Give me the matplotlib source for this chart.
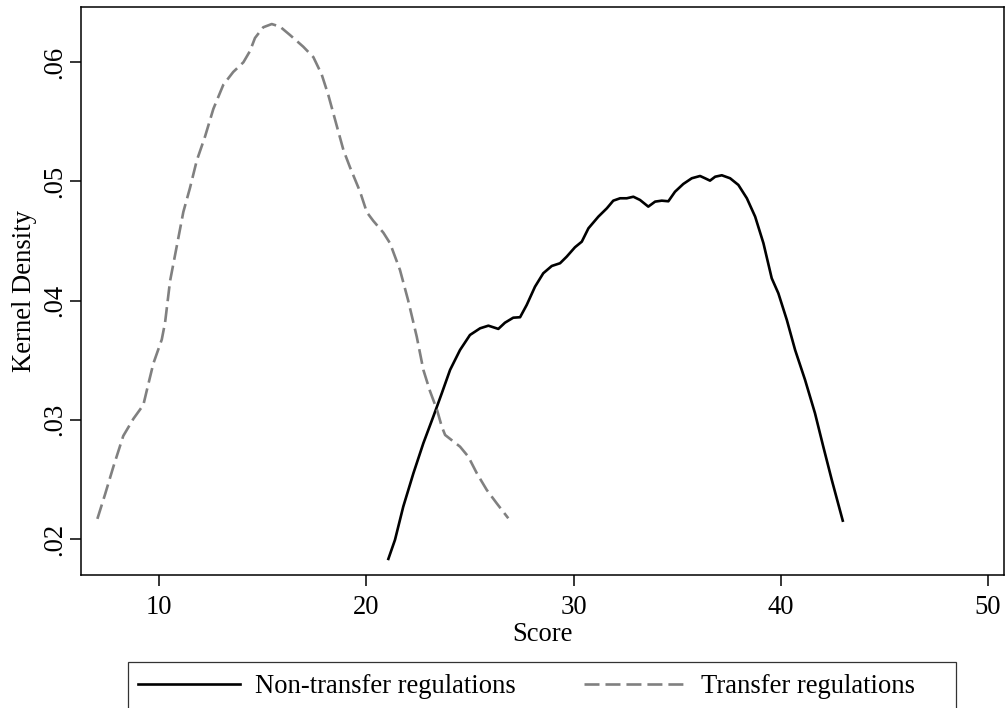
"""
Kernel density of scores: non-transfer vs transfer regulations (Stata-style).
"""
import matplotlib
matplotlib.use("Agg")
import matplotlib.pyplot as plt
from matplotlib.patches import Rectangle

plt.rcParams['font.family'] = ['Liberation Serif', 'DejaVu Serif']
plt.rcParams['lines.scale_dashes'] = False

# Non-transfer regulations (solid black)
nontransfer_x = [21.06, 21.38, 21.78, 22.27, 22.75, 23.23, 23.64, 24.04, 24.52, 25.00,
                 25.49, 25.89, 26.37, 26.69, 27.09, 27.42, 27.74, 28.14, 28.54, 28.95,
                 29.35, 29.67, 30.07, 30.40, 30.72, 31.20, 31.61, 31.92, 32.25, 32.57,
                 32.89, 33.21, 33.61, 33.94, 34.26, 34.58, 34.90, 35.30, 35.71, 36.11,
                 36.35, 36.59, 36.84, 37.16, 37.56, 37.96, 38.37, 38.77, 39.17, 39.57,
                 39.89, 40.30, 40.70, 41.18, 41.66, 42.06, 42.47, 43.00]
nontransfer_y = [.01833, .01993, .02272, .02552, .02804, .03027, .03223, .03419, .03586, .03712,
                 .03768, .03790, .03763, .03815, .03857, .03861, .03964, .04117, .04230, .04291,
                 .04314, .04369, .04448, .04495, .04607, .04705, .04775, .04839, .04859, .04859,
                 .04872, .04845, .04789, .04831, .04839, .04834, .04914, .04979, .05027, .05046,
                 .05027, .05007, .05040, .05052, .05027, .04971, .04859, .04705, .04482, .04188,
                 .04062, .03838, .03586, .03335, .03055, .02775, .02496, .02154]

# Transfer regulations (dashed gray)
transfer_x = [7.01, 7.38, 7.78, 8.26, 8.75, 9.23, 9.39, 9.71, 10.12, 10.28,
              10.52, 10.84, 11.16, 11.48, 11.81, 12.21, 12.61, 13.09, 13.57, 14.06,
              14.38, 14.62, 15.02, 15.43, 15.83, 16.31, 16.95, 17.44, 17.84, 18.16,
              18.57, 18.89, 19.21, 19.69, 20.02, 20.33, 20.82, 21.14, 21.62, 22.01,
              22.43, 22.75, 23.07, 23.41, 23.64, 23.80, 24.52, 24.92, 25.33, 25.81,
              26.29, 26.85]
transfer_y = [.02169, .02374, .02605, .02865, .03009, .03125, .03242, .03471, .03674, .03818,
              .04165, .04454, .04744, .04945, .05176, .05378, .05609, .05811, .05919, .06000,
              .06095, .06204, .06294, .06321, .06299, .06229, .06131, .06043, .05898, .05726,
              .05466, .05264, .05118, .04916, .04742, .04670, .04570, .04482, .04258, .04006,
              .03698, .03419, .03241, .03083, .02943, .02873, .02775, .02691, .02552, .02412,
              .02300, .02174]

x_ticks = [10, 20, 30, 40, 50]
y_ticks = [.02, .03, .04, .05, .06]
y_ticklabels = ['.02', '.03', '.04', '.05', '.06']

FS = 19.2

fig = plt.figure(figsize=(10.06, 7.08), dpi=100)
ax = fig.add_axes([80.7 / 1006, 1 - 575 / 708, (1004.3 - 80.7) / 1006, (575 - 7) / 708])

ax.plot(nontransfer_x, nontransfer_y, color='black', linewidth=1.9,
        solid_joinstyle='round', label='Non-transfer regulations')
ax.plot(transfer_x, transfer_y, color='#808080', linewidth=1.9,
        dashes=(10.8, 4.3), label='Transfer regulations')

ax.set_xlim(6.205, 50.80)
ax.set_ylim(0.01698, 0.06464)
ax.set_xticks(x_ticks)
ax.set_yticks(y_ticks)
ax.set_yticklabels(y_ticklabels, rotation=90, va='center')

for s in ax.spines.values():
    s.set_linewidth(1.1)
ax.tick_params(axis='both', direction='out', length=7.9, width=1.1, labelsize=FS)
ax.tick_params(axis='x', pad=6.5)
ax.tick_params(axis='y', pad=2)

ax.set_xlabel('Score', fontsize=FS)
ax.set_ylabel('Kernel Density', fontsize=FS)
ax.xaxis.set_label_coords(0.5, -0.082)
ax.yaxis.set_label_coords(-0.0473, 0.5)

# legend frame (runs past bottom edge like the original)
fig.patches.append(Rectangle((128.3 / 1006, -0.2), (956 - 128.3) / 1006, 0.2 + (1 - 661.7 / 708),
                             transform=fig.transFigure, fill=False,
                             edgecolor='#333333', linewidth=0.9))
fig.legend(loc='center left', bbox_to_anchor=(138.3 / 1006, 1 - 686.7 / 708),
           ncol=2, frameon=False, fontsize=FS, borderpad=0, borderaxespad=0,
           handlelength=3.82, handletextpad=0.56, columnspacing=2.55)

fig.savefig('out.png', dpi=100)
